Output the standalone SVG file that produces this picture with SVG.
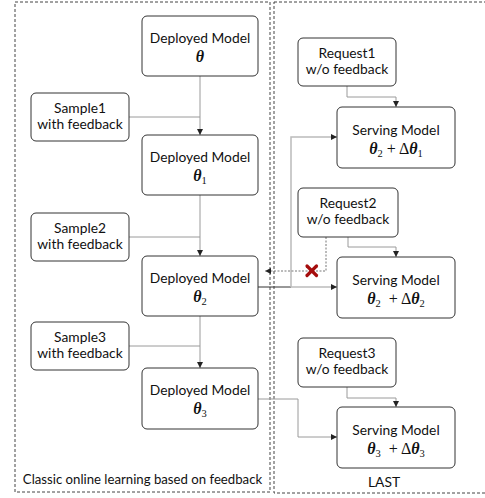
<svg xmlns="http://www.w3.org/2000/svg" width="485" height="498" viewBox="0 0 485 498">
<style>
.node{fill:#fff;stroke:#333;stroke-width:1}
.t{font-family:"Lato","Liberation Sans",sans-serif;font-size:13.8px;fill:#111;text-anchor:middle}
.cap{font-size:13.2px}
.m{font-family:"Liberation Serif",serif;font-size:16px;fill:#111;text-anchor:middle}
.th{font-weight:bold;font-style:italic}
.sub{font-size:10.5px}
.c{fill:none;stroke:#9a9a9a;stroke-width:1}
.frame{fill:none;stroke:#444;stroke-width:1;stroke-dasharray:3 2}
</style>
<defs>
<marker id="arr" viewBox="0 0 6 6" refX="6" refY="3" markerWidth="6" markerHeight="6" orient="auto" markerUnits="userSpaceOnUse">
<path d="M0,0 L6,3 L0,6 z" fill="#222"/>
</marker>
</defs>
<g id="frames">
<rect class="frame" x="15" y="2" width="255" height="490"/>
<rect class="frame" x="274" y="2" width="220" height="491"/>
<text class="t cap" x="142.5" y="484">Classic online learning based on feedback</text>
<text class="t" x="384" y="487">LAST</text>
</g>
<g id="connectors">
<path class="c" d="M200,76 V135" marker-end="url(#arr)"/>
<path class="c" d="M129,117 H200"/>
<path class="c" d="M200,195 V256" marker-end="url(#arr)"/>
<path class="c" d="M129,237 H200"/>
<path class="c" d="M200,316 V368" marker-end="url(#arr)"/>
<path class="c" d="M129,346 H200"/>
<path class="c" d="M347,86 V97 H396 V107" marker-end="url(#arr)"/>
<path class="c" d="M258,287 H291" style="stroke:#333"/>
<path class="c" d="M291,287 V137 H337" style="stroke:#bbb;stroke-width:1.5" marker-end="url(#arr)"/>
<path class="c" d="M291,287 H337" style="stroke:#bbb;stroke-width:1.5" marker-end="url(#arr)"/>
<path class="c" d="M348,237 V247 H396 V257" marker-end="url(#arr)"/>
<path class="c" d="M326,237 V271 H265" style="stroke:#777;stroke-dasharray:2 1.5" marker-end="url(#arr)"/>
<path class="c" d="M347,387 V398 H396 V407" marker-end="url(#arr)"/>
<path class="c" d="M258,399 H298 V437 H337" marker-end="url(#arr)"/>
<g id="cross" stroke="#a50d0d" stroke-width="3.2" stroke-linecap="round">
<line x1="307" y1="266" x2="316.5" y2="275.5"/>
<line x1="316.5" y1="266" x2="307" y2="275.5"/>
</g>
</g>
<g id="deployed0">
<rect class="node" x="142" y="16" width="116" height="60" rx="5"/>
<text class="t" x="200" y="43">Deployed Model</text>
<text class="m" x="200" y="62"><tspan class="th">θ</tspan></text>
</g>
<g id="sample1">
<rect class="node" x="31" y="93" width="98" height="48" rx="5"/>
<text class="t" x="80" y="113">Sample1</text>
<text class="t" x="80" y="129">with feedback</text>
</g>
<g id="deployed1">
<rect class="node" x="142" y="135" width="116" height="60" rx="5"/>
<text class="t" x="200" y="162">Deployed Model</text>
<text class="m" x="200" y="181"><tspan class="th">θ</tspan><tspan class="sub" dy="3">1</tspan></text>
</g>
<g id="sample2">
<rect class="node" x="31" y="213" width="98" height="48" rx="5"/>
<text class="t" x="80" y="233">Sample2</text>
<text class="t" x="80" y="249">with feedback</text>
</g>
<g id="deployed2">
<rect class="node" x="142" y="256" width="116" height="60" rx="5"/>
<text class="t" x="200" y="283">Deployed Model</text>
<text class="m" x="200" y="302"><tspan class="th">θ</tspan><tspan class="sub" dy="3">2</tspan></text>
</g>
<g id="sample3">
<rect class="node" x="31" y="322" width="98" height="48" rx="5"/>
<text class="t" x="80" y="342">Sample3</text>
<text class="t" x="80" y="358">with feedback</text>
</g>
<g id="deployed3">
<rect class="node" x="142" y="368" width="116" height="61" rx="5"/>
<text class="t" x="200" y="395">Deployed Model</text>
<text class="m" x="200" y="414"><tspan class="th">θ</tspan><tspan class="sub" dy="3">3</tspan></text>
</g>
<g id="request1">
<rect class="node" x="298" y="38" width="98" height="48" rx="5"/>
<text class="t" x="347" y="58">Request1</text>
<text class="t" x="347" y="74">w/o feedback</text>
</g>
<g id="serving1">
<rect class="node" x="337" y="107" width="118" height="61" rx="5"/>
<text class="t" x="396" y="135">Serving Model</text>
<text class="m" x="396" y="154"><tspan class="th">θ</tspan><tspan class="sub" dy="3">2</tspan><tspan dy="-3"> + Δ</tspan><tspan class="th">θ</tspan><tspan class="sub" dy="3">1</tspan></text>
</g>
<g id="request2">
<rect class="node" x="298" y="188" width="100" height="49" rx="5"/>
<text class="t" x="348" y="208">Request2</text>
<text class="t" x="348" y="224">w/o feedback</text>
</g>
<g id="serving2">
<rect class="node" x="337" y="257" width="118" height="61" rx="5"/>
<text class="t" x="396" y="285">Serving Model</text>
<text class="m" x="396" y="304" xml:space="preserve"><tspan class="th">θ</tspan><tspan class="sub" dy="3">2</tspan><tspan dy="-3">  + Δ</tspan><tspan class="th">θ</tspan><tspan class="sub" dy="3">2</tspan></text>
</g>
<g id="request3">
<rect class="node" x="298" y="338" width="98" height="49" rx="5"/>
<text class="t" x="347" y="358">Request3</text>
<text class="t" x="347" y="374">w/o feedback</text>
</g>
<g id="serving3">
<rect class="node" x="337" y="407" width="118" height="61" rx="5"/>
<text class="t" x="396" y="435">Serving Model</text>
<text class="m" x="396" y="454" xml:space="preserve"><tspan class="th">θ</tspan><tspan class="sub" dy="3">3</tspan><tspan dy="-3">  + Δ</tspan><tspan class="th">θ</tspan><tspan class="sub" dy="3">3</tspan></text>
</g>
</svg>
